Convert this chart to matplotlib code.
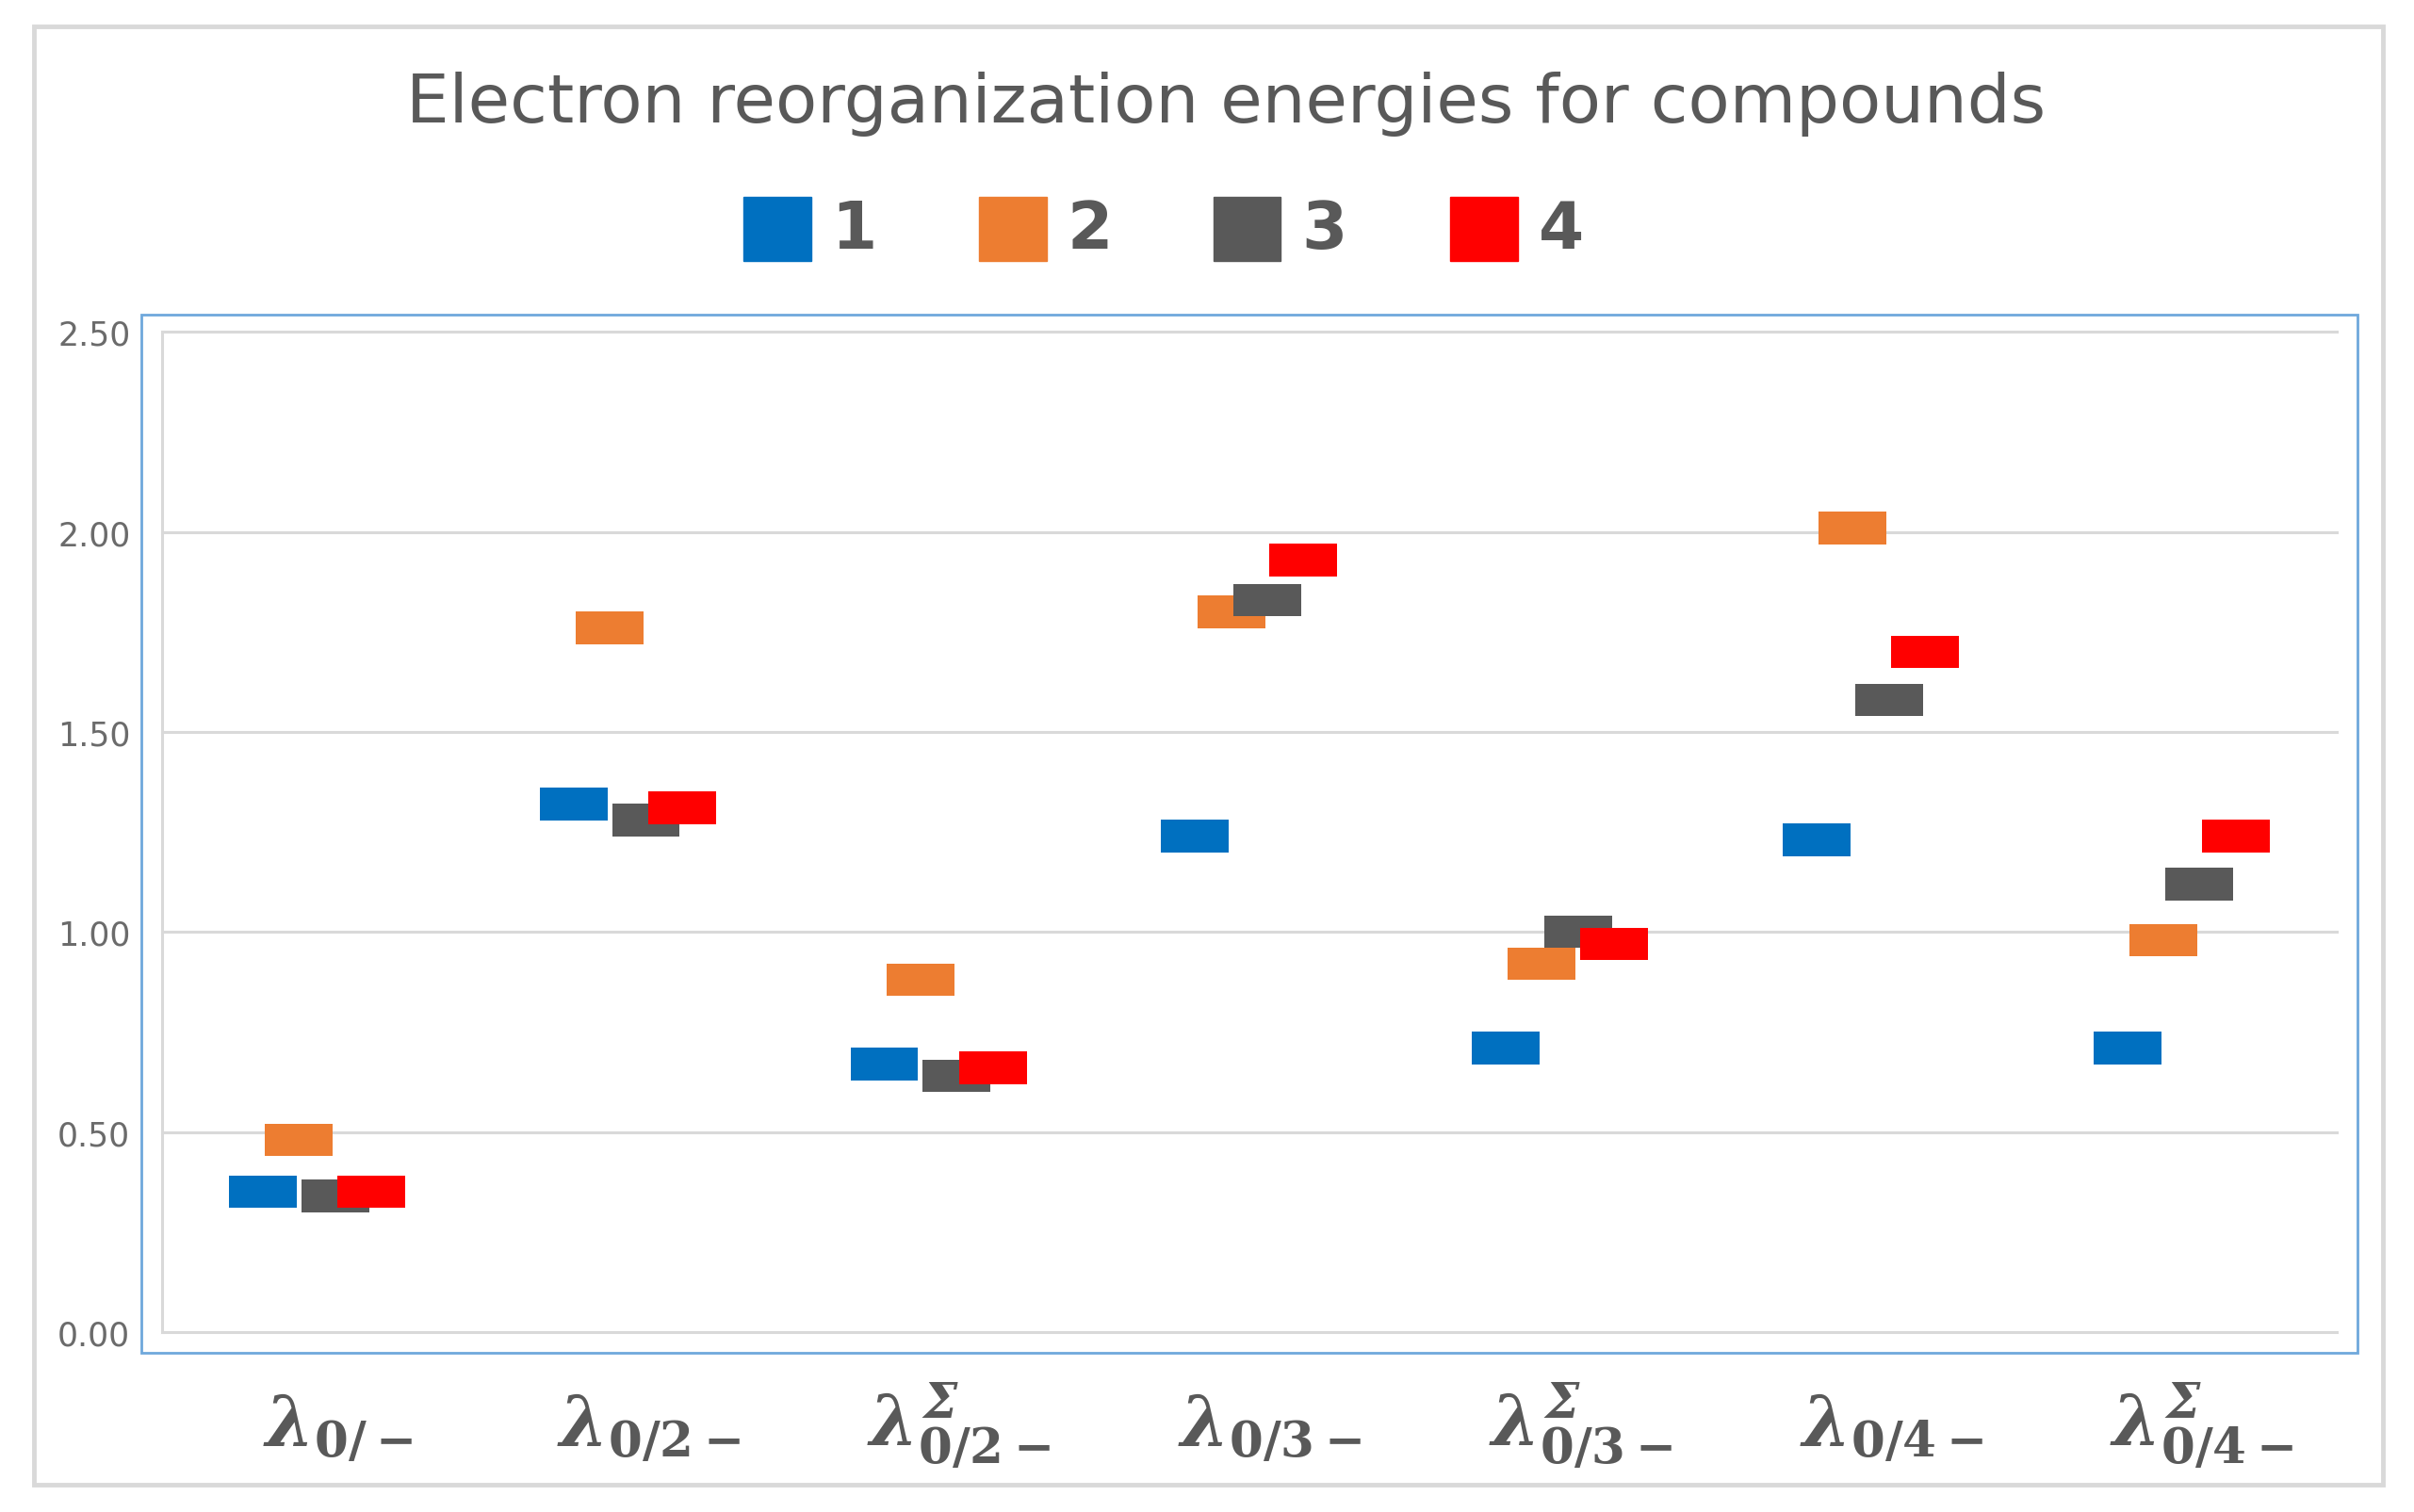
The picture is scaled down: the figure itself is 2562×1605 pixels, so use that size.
import numpy as np
import matplotlib
matplotlib.use("Agg")
import matplotlib.pyplot as plt
from matplotlib.patches import Rectangle
from matplotlib.transforms import ScaledTranslation

plt.rcParams['font.family'] = ['DejaVu Sans']
plt.rcParams['mathtext.fontset'] = 'custom'
plt.rcParams['mathtext.rm'] = 'DejaVu Serif:bold'
plt.rcParams['mathtext.bf'] = 'DejaVu Serif:bold'
plt.rcParams['mathtext.it'] = 'DejaVu Serif:italic:bold'
plt.rcParams['mathtext.sf'] = 'DejaVu Serif:italic:bold'

categories = [r'$\lambda_{0/-}$', r'$\lambda_{0/2-}$', r'$\lambda^{\mathsf{\Sigma}}_{0/2-}$',
              r'$\lambda_{0/3-}$', r'$\lambda^{\mathsf{\Sigma}}_{0/3-}$', r'$\lambda_{0/4-}$',
              r'$\lambda^{\mathsf{\Sigma}}_{0/4-}$']
series_names = ['1', '2', '3', '4']
s1 = [0.35, 1.32, 0.67, 1.24, 0.71, 1.23, 0.71]
s2 = [0.48, 1.76, 0.88, 1.80, 0.92, 2.01, 0.98]
s3 = [0.34, 1.28, 0.64, 1.83, 1.00, 1.58, 1.12]
s4 = [0.35, 1.31, 0.66, 1.93, 0.97, 1.70, 1.24]
yticks = [0.0, 0.5, 1.0, 1.5, 2.0, 2.5]
ytick_labels = ['0.00', '0.50', '1.00', '1.50', '2.00', '2.50']
colors = ['#0070C0', '#ED7D31', '#595959', '#FF0000']

fig = plt.figure(figsize=(25.62, 16.06), dpi=100)

# outer frame
fig.add_artist(Rectangle((0.014, 0.018), 0.973, 0.964, transform=fig.transFigure,
                         fill=False, ec='#d9d9d9', lw=3.5))
# plot area frame
fig.add_artist(Rectangle((0.0587, 0.105), 0.918, 0.6865, transform=fig.transFigure,
                         fill=False, ec='#6fa8dc', lw=2))

ax = fig.add_axes([0.067, 0.119, 0.901, 0.661])
x = np.arange(len(categories)) + 0.5
offsets = [-1.5, -0.5, 0.5, 1.5]
step = 0.1164
W = 0.218
H = 0.081
for i, vals in enumerate([s1, s2, s3, s4]):
    v = np.array(vals)
    ax.bar(x + offsets[i] * step, H, bottom=v - H / 2, width=W, color=colors[i],
           zorder=3 + i, label=series_names[i])

ax.set_xlim(0, 7)
ax.set_ylim(0, 2.5)
ax.set_yticks(yticks)
ax.set_yticklabels(ytick_labels, color='#6b6b6b', fontsize=25)
ax.set_xticks(x)
ax.set_xticklabels(categories, fontsize=53, color='#595959')
ax.tick_params(axis='both', length=0)
ax.tick_params(axis='y', pad=24)
ax.tick_params(axis='x', pad=87)
shift = ScaledTranslation(0.22, 0, fig.dpi_scale_trans)
for lab in ax.get_xticklabels():
    lab.set_va('baseline')
    lab.set_transform(lab.get_transform() + shift)
ax.yaxis.grid(True, color='#d9d9d9', lw=2.2, zorder=0)
ax.set_axisbelow(True)
for gl in ax.get_ygridlines():
    gl.set_clip_on(False)
for s in ['top', 'right', 'bottom']:
    ax.spines[s].set_visible(False)
ax.spines['left'].set_color('#d9d9d9')
ax.spines['left'].set_linewidth(2.2)

fig.text(0.508, 0.931, 'Electron reorganization energies for compounds',
         ha='center', va='center', fontsize=52, color='#595959')

# legend
box_cx = [0.322, 0.4196, 0.5166, 0.6148]
bw, bh = 0.028, 0.0427
for i in range(4):
    fig.add_artist(Rectangle((box_cx[i] - bw / 2, 0.848 - bh / 2), bw, bh,
                             transform=fig.transFigure, color=colors[i]))
    fig.text(box_cx[i] + 0.0224, 0.848, series_names[i], ha='left', va='center',
             fontsize=50, fontweight='bold', color='#595959')

fig.savefig('out.png', dpi=100, facecolor='white')
